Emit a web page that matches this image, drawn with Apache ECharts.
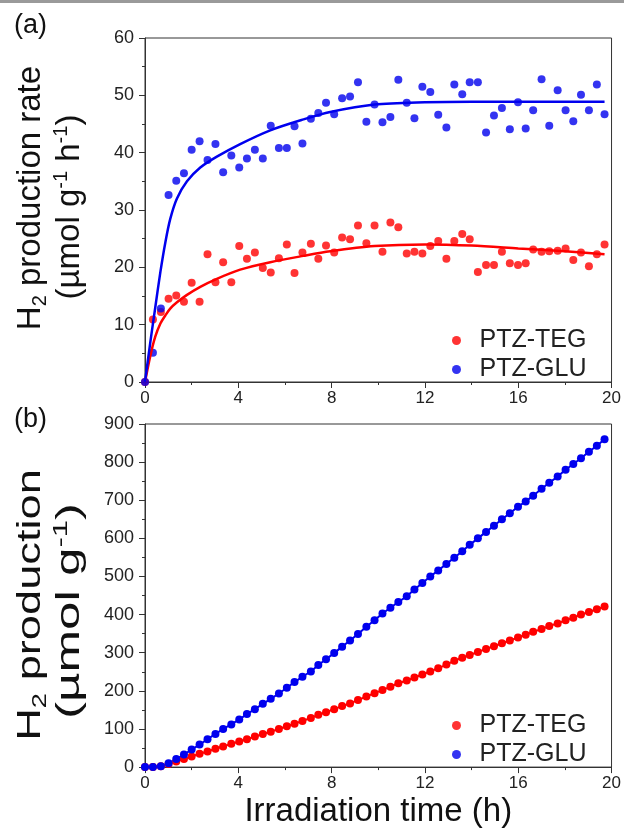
<!DOCTYPE html>
<html>
<head>
<meta charset="utf-8">
<title>H2 production</title>
<script src="https://cdn.jsdelivr.net/npm/echarts@6/dist/echarts.min.js"></script>
<style>
	html,body{margin:0;padding:0;background:#fff;}
	#chart{width:624px;height:832px;}
</style>
</head>
<body>
<div id="chart"></div>
<script>
// sampling times (h), shared by both samples
var hours = [0,0.34,0.68,1.01,1.34,1.67,2.0,2.34,2.68,3.02,3.35,3.70,4.04,4.37,4.71,5.05,5.39,5.74,6.08,6.41,
	6.75,7.11,7.43,7.76,8.11,8.45,8.79,9.13,9.49,9.84,10.18,10.52,10.86,11.22,11.55,11.89,12.23,12.57,12.92,13.26,
	13.60,13.92,14.27,14.62,14.96,15.30,15.64,15.99,16.32,16.64,17.00,17.33,17.69,18.03,18.36,18.69,19.03,19.37,19.70];

// (a) production rate, umol g-1 h-1
var tegRate = [0,10.9,12.2,14.5,15.1,14.0,17.3,14.0,22.3,17.4,20.9,17.4,23.7,21.5,22.6,19.9,19.1,21.6,24.0,19.0,
	22.6,24.1,21.5,23.8,22.6,25.2,24.9,27.3,24.2,27.3,22.7,27.8,27.0,22.4,22.7,22.4,23.7,24.6,21.5,24.6,
	25.8,24.9,19.2,20.4,20.4,22.7,20.7,20.4,20.7,23.1,22.7,22.8,22.9,23.3,21.3,22.6,20.2,22.3,24.0];
var gluRate = [0,5.1,12.8,32.6,35.1,36.4,40.5,42.0,38.7,41.5,36.6,39.5,37.4,39.0,40.5,39.0,44.7,40.8,40.8,44.6,
	41.6,45.9,46.9,48.7,46.7,49.5,49.8,52.3,45.4,48.4,45.3,46.2,52.7,48.7,46.0,51.5,50.6,46.6,44.4,51.9,
	50.2,52.3,52.3,43.5,46.5,47.8,44.1,48.8,44.2,47.4,52.8,44.7,50.9,47.4,45.5,50.1,47.4,51.9,46.7];

// fitted curves
var fitHours = [0,0.23,0.44,0.66,0.87,1.08,1.37,1.8,2.37,3.08,4.08,5.37,6.79,7.94,9.84,12,14,16,18,19.7];
var tegFit = [0,4.6,7.9,10.2,11.6,12.8,13.9,15.2,16.6,18.0,19.6,20.9,22.0,22.8,23.7,24.0,23.8,23.3,22.8,22.3];
var gluFit = [0,7.0,13.0,19.2,24.3,28.4,32.0,35.0,37.4,39.3,41.5,43.9,45.8,47.1,48.4,48.8,48.9,48.9,48.9,48.9];

// (b) cumulative production, umol g-1
var tegTotal = [0,0,2,8,15,21,28,35,41,48,54,61,67,73,80,87,93,100,107,114,
	121,129,137,144,152,160,167,176,185,194,202,211,220,227,235,243,251,259,269,279,
	287,294,302,310,317,325,332,340,347,355,362,370,377,385,392,400,407,414,421];
var gluTotal = [0,0,2,10,21,33,46,59,73,87,100,112,125,139,152,166,179,193,208,223,
	237,251,268,283,299,316,332,349,368,385,403,418,433,448,466,483,500,516,533,549,
	566,583,600,617,633,650,666,683,697,712,730,746,762,780,795,810,827,843,860];

var seriesNames = ['PTZ-TEG','PTZ-GLU'];
var RED = '#ff0000', BLUE = '#0000ee';
var FONT = 'Liberation Sans';

function pairs(xs,ys){
	var out = [];
	for(var i=0;i<ys.length;i++){
		out.push([xs[i],ys[i]]);
	}
	return out;
}

var nameRich = {
	t:{fontSize:33,lineHeight:38,fontFamily:FONT,fill:'#111'},
	sub:{fontSize:20,lineHeight:18,verticalAlign:'bottom',fontFamily:FONT,fill:'#111'},
	sup:{fontSize:20,lineHeight:20,verticalAlign:'top',fontFamily:FONT,fill:'#111'}
};

// rotated y title line; stretch = scale along the reading direction
function yTitle(text,x,y,stretch){
	return {
		type:'text',x:x,y:y,rotation:Math.PI/2,scaleX:stretch,scaleY:1,
		style:{text:text,rich:nameRich,align:'center',verticalAlign:'middle'}
	};
}

function xAxisCfg(idx,withName){
	var ax = {
		type:'value',gridIndex:idx,min:0,max:20,interval:4,
		axisLine:{lineStyle:{color:'#333',width:1}},
		axisTick:{length:6,lineStyle:{color:'#333'}},
		minorTick:{show:true,splitNumber:2,length:3,lineStyle:{color:'#333'}},
		splitLine:{show:false},
		axisLabel:{fontSize:17,fontFamily:FONT,color:'#222',margin:8}
	};
	if(withName){
		ax.name = 'Irradiation time (h)';
		ax.nameLocation = 'middle';
		ax.nameGap = 22;
		ax.nameTextStyle = {fontSize:33,lineHeight:38,fontFamily:FONT,color:'#111'};
	}
	return ax;
}

function yAxisCfg(idx,max,step){
	return {
		type:'value',gridIndex:idx,min:0,max:max,interval:step,
		axisLine:{show:true,lineStyle:{color:'#333',width:1}},
		axisTick:{show:true,length:6,lineStyle:{color:'#333'}},
		minorTick:{show:true,splitNumber:2,length:3,lineStyle:{color:'#333'}},
		splitLine:{show:false},
		axisLabel:{fontSize:18,fontFamily:FONT,color:'#222',margin:11}
	};
}

function legendCfg(top){
	return {
		data:seriesNames,orient:'vertical',left:447,top:top,
		icon:'circle',itemWidth:36,itemHeight:9,itemGap:4,
		textStyle:{fontSize:25,lineHeight:24,fontFamily:FONT,color:'#222'}
	};
}

var chart = echarts.init(document.getElementById('chart'),null,{renderer:'canvas'});
chart.setOption({
	animation:false,
	backgroundColor:'#fff',
	grid:[
		{left:145,right:12,top:38,height:344,show:true,borderColor:'#333',borderWidth:1},
		{left:145,right:12,top:424,height:344,show:true,borderColor:'#333',borderWidth:1}
	],
	xAxis:[xAxisCfg(0,false),xAxisCfg(1,true)],
	yAxis:[yAxisCfg(0,60,10),yAxisCfg(1,900,100)],
	legend:[legendCfg(323),legendCfg(708)],
	graphic:[
		{type:'rect',left:0,top:0,shape:{width:624,height:3},style:{fill:'#9a9a9a'}},
		{type:'text',left:14,top:12,style:{text:'(a)',fontSize:27,fontFamily:FONT,fill:'#111'}},
		{type:'text',left:14,top:406,style:{text:'(b)',fontSize:27,fontFamily:FONT,fill:'#111'}},
		yTitle('{t|H}{sub|2}{t| production rate}',31,198,1),
		yTitle('{t|(µmol g}{sup|-1}{t| h}{sup|-1}{t|)}',70,207,1),
		yTitle('{t|H}{sub|2}{t| production}',31,605,1.37),
		yTitle('{t|(µmol g}{sup|-1}{t|)}',70,611,1.55)
	],
	series:[
		{
			name:'PTZ-TEG',type:'scatter',xAxisIndex:0,yAxisIndex:0,
			symbol:'circle',symbolSize:8,itemStyle:{color:RED},
			data:pairs(hours,tegRate)
		},
		{
			name:'PTZ-GLU',type:'scatter',xAxisIndex:0,yAxisIndex:0,
			symbol:'circle',symbolSize:8,itemStyle:{color:BLUE},
			data:pairs(hours,gluRate)
		},
		{
			name:'TEG fit',type:'line',xAxisIndex:0,yAxisIndex:0,
			showSymbol:false,smooth:0.3,
			lineStyle:{color:RED,width:2.5},itemStyle:{color:RED},
			data:pairs(fitHours,tegFit)
		},
		{
			name:'GLU fit',type:'line',xAxisIndex:0,yAxisIndex:0,
			showSymbol:false,smooth:0.3,
			lineStyle:{color:BLUE,width:2.5},itemStyle:{color:BLUE},
			data:pairs(fitHours,gluFit)
		},
		{
			name:'PTZ-TEG',type:'line',xAxisIndex:1,yAxisIndex:1,
			symbol:'circle',symbolSize:8,showAllSymbol:true,
			lineStyle:{color:RED,width:2},itemStyle:{color:RED},
			data:pairs(hours,tegTotal)
		},
		{
			name:'PTZ-GLU',type:'line',xAxisIndex:1,yAxisIndex:1,
			symbol:'circle',symbolSize:8,showAllSymbol:true,
			lineStyle:{color:BLUE,width:2},itemStyle:{color:BLUE},
			data:pairs(hours,gluTotal)
		}
	]
});
</script>
</body>
</html>
